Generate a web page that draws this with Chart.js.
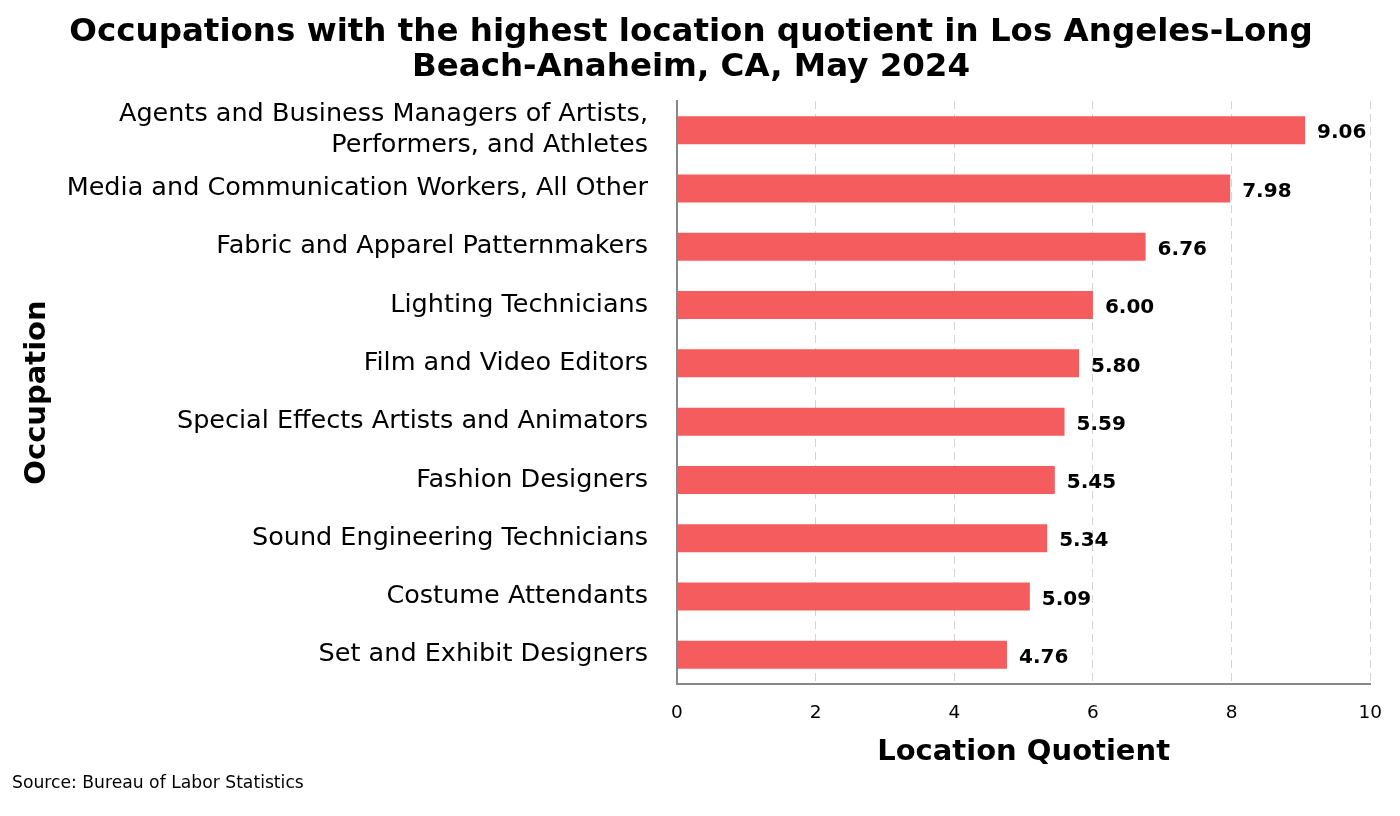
<!DOCTYPE html>
<html>
<head>
<meta charset="utf-8">
<script src="https://cdn.jsdelivr.net/npm/chart.js@4/dist/chart.umd.min.js"></script>
<style>
  html, body { margin: 0; padding: 0; background: #fff; }
  #wrap { width: 1400px; height: 816px; }
</style>
</head>
<body>
<div id="wrap"><canvas id="lqChart"></canvas></div>
<script>
// occupations, top to bottom
const occupations = [
    ["Agents and Business Managers of Artists,", "Performers, and Athletes"],
    "Media and Communication Workers, All Other",
    "Fabric and Apparel Patternmakers",
    "Lighting Technicians",
    "Film and Video Editors",
    "Special Effects Artists and Animators",
    "Fashion Designers",
    "Sound Engineering Technicians",
    "Costume Attendants",
    "Set and Exhibit Designers",
];
const locationQuotient = [9.06, 7.98, 6.76, 6.00, 5.80, 5.59, 5.45, 5.34, 5.09, 4.76];
const xTicks = [0, 2, 4, 6, 8, 10];
const titleLines = ["Occupations with the highest location quotient in Los Angeles-Long", "Beach-Anaheim, CA, May 2024"];
const sourceNote = "Source: Bureau of Labor Statistics";

const FONT = "'DejaVu Sans', Verdana, sans-serif";
const barColor = "#f55c5e";

// value text to the right of each bar
const valueLabels = {
    id: "valueLabels",
    afterDatasetsDraw(chart) {
        const ctx = chart.ctx;
        const meta = chart.getDatasetMeta(0);
        ctx.save();
        ctx.font = "bold 20px " + FONT;
        ctx.fillStyle = "#000";
        ctx.textAlign = "left";
        ctx.textBaseline = "middle";
        meta.data.forEach((bar, i) => {
            ctx.fillText(locationQuotient[i].toFixed(2), bar.x + 12, bar.y + 3);
        });
        ctx.restore();
    }
};

// two-line title (a bit left of the canvas middle) + source note
const pageText = {
    id: "pageText",
    afterDraw(chart) {
        const ctx = chart.ctx;
        ctx.save();
        ctx.fillStyle = "#000";
        ctx.textBaseline = "middle";
        ctx.font = "bold 32.5px " + FONT;
        ctx.textAlign = "center";
        titleLines.forEach((line, i) => ctx.fillText(line, 691, 33 + i * 35));
        ctx.font = "17.2px " + FONT;
        ctx.textAlign = "left";
        ctx.fillText(sourceNote, 12, 784);
        ctx.restore();
    }
};

new Chart(document.getElementById("lqChart"), {
    type: "bar",
    data: {
        labels: occupations,
        datasets: [{
            data: locationQuotient,
            backgroundColor: barColor,
            borderWidth: 0,
            categoryPercentage: 1,
            barPercentage: 0.48,
        }],
    },
    options: {
        indexAxis: "y",
        responsive: true,
        maintainAspectRatio: false,
        animation: false,
        layout: { padding: { left: 20, right: 18, top: 101, bottom: 46 } },
        plugins: {
            legend: { display: false },
            tooltip: { enabled: false },
            title: { display: false },
        },
        scales: {
            x: {
                min: 0,
                max: 10,
                afterBuildTicks: (axis) => { axis.ticks = xTicks.map(v => ({ value: v })); },
                afterFit: (axis) => { axis.height = 86; },
                grid: {
                    color: "#d4d4d4",
                    lineWidth: 1,
                    drawTicks: false,
                },
                border: { display: true, color: "#888", width: 2, dash: [8, 5] },
                ticks: {
                    color: "#000",
                    font: { family: FONT, size: 18.5 },
                    padding: 18,
                },
                title: {
                    display: true,
                    text: "Location Quotient",
                    color: "#000",
                    font: { family: FONT, size: 29, weight: "bold" },
                    padding: { top: 0, bottom: 0 },
                },
            },
            y: {
                afterFit: (axis) => { axis.width = 657; },
                grid: { display: false, drawTicks: false },
                border: { display: true, color: "#888", width: 2 },
                ticks: {
                    color: "#000",
                    font: { family: FONT, size: 25.5 },
                    padding: 29,
                    autoSkip: false,
                },
                title: {
                    display: true,
                    text: "Occupation",
                    color: "#000",
                    font: { family: FONT, size: 29, weight: "bold" },
                    padding: { top: 0, bottom: 0 },
                },
            },
        },
    },
    plugins: [valueLabels, pageText],
});
</script>
</body>
</html>
